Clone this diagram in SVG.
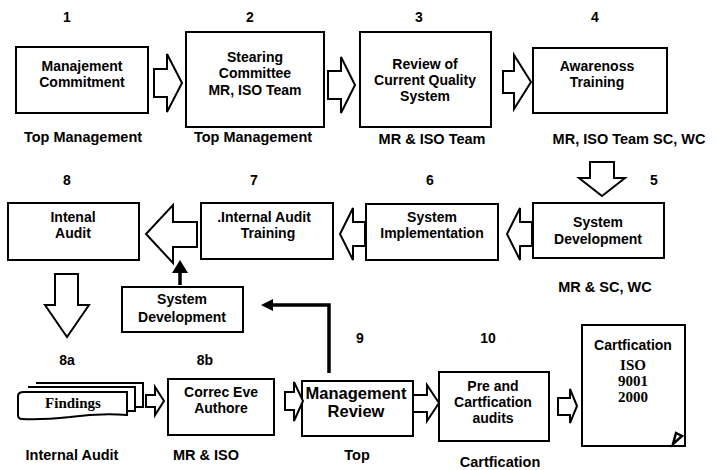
<svg xmlns="http://www.w3.org/2000/svg" width="719" height="470" viewBox="0 0 719 470">
<style>
.bx{fill:#fff;stroke:#000;stroke-width:2}
.ar{fill:#fff;stroke:#000;stroke-width:2;stroke-linejoin:miter}
text{font-family:"Liberation Sans",Arial,sans-serif;font-weight:bold;font-size:14px;fill:#000;text-anchor:middle}
.num{font-size:14px}
.lbl{font-size:14.5px}
.big{font-size:16.5px}
.sf{font-family:"Liberation Serif","Times New Roman",serif;font-size:15px}
.cn{fill:none;stroke:#000;stroke-width:3.5}
</style>
<rect width="719" height="470" fill="#fff"/>

<g id="n1">
<rect class="bx" x="16" y="47" width="132" height="66"/>
<text x="82" y="71">Manajement</text>
<text x="82" y="87">Commitment</text>
<text class="num" x="67" y="22">1</text>
<text class="lbl" x="83" y="142">Top Management</text>
</g>
<g id="n2">
<rect class="bx" x="186" y="32" width="138" height="95"/>
<text x="255" y="62">Stearing</text>
<text x="255" y="78">Committee</text>
<text x="255" y="95">MR, ISO Team</text>
<text class="num" x="250" y="22">2</text>
<text class="lbl" x="253" y="142">Top Management</text>
</g>
<g id="n3">
<rect class="bx" x="360" y="32" width="131" height="95"/>
<text x="425" y="69">Review of</text>
<text x="425" y="85">Current Quality</text>
<text x="425" y="101">System</text>
<text class="num" x="419" y="22">3</text>
<text class="lbl" x="432" y="144">MR &amp; ISO Team</text>
</g>
<g id="n4">
<rect class="bx" x="533" y="48" width="134" height="65"/>
<text x="597" y="71">Awarenoss</text>
<text x="597" y="87">Training</text>
<text class="num" x="595" y="22">4</text>
<text class="lbl" x="629" y="144">MR, ISO Team SC, WC</text>
</g>
<g id="n5">
<rect class="bx" x="533" y="203" width="131" height="55"/>
<text x="598" y="227">System</text>
<text x="598" y="244">Development</text>
<text class="num" x="654" y="185">5</text>
<text class="lbl" x="605" y="292">MR &amp; SC, WC</text>
</g>
<g id="n6">
<rect class="bx" x="366" y="204" width="132" height="56"/>
<text x="432" y="222">System</text>
<text x="432" y="238">Implementation</text>
<text class="num" x="430" y="185">6</text>
</g>
<g id="n7">
<rect class="bx" x="201" y="203" width="132" height="56"/>
<text x="264" y="222">.Internal Audit</text>
<text x="268" y="238">Training</text>
<text class="num" x="254" y="185">7</text>
</g>
<g id="n8">
<rect class="bx" x="8" y="203" width="131" height="57"/>
<text x="73" y="222">Intenal</text>
<text x="73" y="238">Audit</text>
<text class="num" x="67" y="185">8</text>
</g>
<g id="nSD">
<rect class="bx" x="122" y="287" width="121" height="45"/>
<text x="182" y="304">System</text>
<text x="182" y="322">Development</text>
</g>
<g id="n8a">
<path class="bx" d="M36,383 L143,383 L143,407 L136,407"/>
<path class="bx" d="M28,387 L135,387 L135,411 L128,411"/>
<path class="bx" d="M24,392 L127,392 L127,415 Q100,413 70,417 Q42,420 22,419 Q18,419 18,415 L18,396 Q18,392 24,392 Z"/>
<text class="sf" x="73" y="408">Findings</text>
<text class="num" x="67" y="365">8a</text>
<text class="lbl" x="72" y="460">Internal Audit</text>
</g>
<g id="n8b">
<rect class="bx" x="168" y="379" width="106" height="56"/>
<text x="221" y="397">Correc Eve</text>
<text x="221" y="413">Authore</text>
<text class="num" x="205" y="365">8b</text>
<text class="lbl" x="206" y="460">MR &amp; ISO</text>
</g>
<g id="n9">
<rect class="bx" x="302" y="381" width="111" height="55"/>
<text class="big" x="356" y="399">Management</text>
<text class="big" x="356" y="417">Review</text>
<text class="num" x="360" y="343">9</text>
<text class="lbl" x="357" y="460">Top</text>
</g>
<g id="n10">
<rect class="bx" x="439" y="372" width="110" height="69"/>
<text x="493" y="391">Pre and</text>
<text x="493" y="407">Cartfication</text>
<text x="493" y="423">audits</text>
<text class="num" x="488" y="343">10</text>
<text class="lbl" x="500" y="467">Cartfication</text>
</g>
<g id="nCert">
<rect class="bx" x="582" y="325" width="103" height="121"/>
<path d="M673,444 L676,433 L682,436 Z" fill="#fff" stroke="#000" stroke-width="2.5"/>
<text x="633" y="350">Cartfication</text>
<text class="sf" x="633" y="370">ISO</text>
<text class="sf" x="633" y="386">9001</text>
<text class="sf" x="633" y="402">2000</text>
</g>

<g id="connectors">
<path class="ar" d="M154,69 L167,69 L167,54 L182,83 L167,112 L167,97 L154,97 Z"/>
<path class="ar" d="M328,71 L341,71 L341,57 L355,85 L341,113 L341,99 L328,99 Z"/>
<path class="ar" d="M503,71 L514,71 L514,55 L531,82 L514,109 L514,93 L503,93 Z"/>
<path class="ar" d="M590,162 L614,162 L614,178 L625,178 L602,196 L579,178 L590,178 Z"/>
<path class="ar" d="M532,222 L520,222 L520,208 L507,234 L520,260 L520,246 L532,246 Z"/>
<path class="ar" d="M365,222 L353,222 L353,208 L340,234 L353,260 L353,246 L365,246 Z"/>
<path class="ar" d="M197,222 L173,222 L173,205 L146,234 L173,263 L173,247 L197,247 Z"/>
<path class="ar" d="M55,274 L78,274 L78,305 L89,305 L67,337 L45,305 L55,305 Z"/>
<path class="ar" d="M146,395 L155,395 L155,387 L164,401 L155,415 L155,407 L146,407 Z"/>
<path class="ar" d="M285,392 L294,392 L294,382 L303,401 L294,421 L294,410 L285,410 Z"/>
<path class="ar" d="M413,395 L427,395 L427,385 L439,403 L427,421 L427,412 L413,412 Z"/>
<path class="ar" d="M558,398 L570,398 L570,389 L577,406 L570,423 L570,415 L558,415 Z"/>
<path class="cn" d="M180,285 L180,271"/>
<path d="M180,260 L188,273 L172,273 Z" fill="#000"/>
<path class="cn" d="M329,373 L329,305 L270,305"/>
<path d="M261,305 L273,299 L273,311 Z" fill="#000"/>
</g>
</svg>
